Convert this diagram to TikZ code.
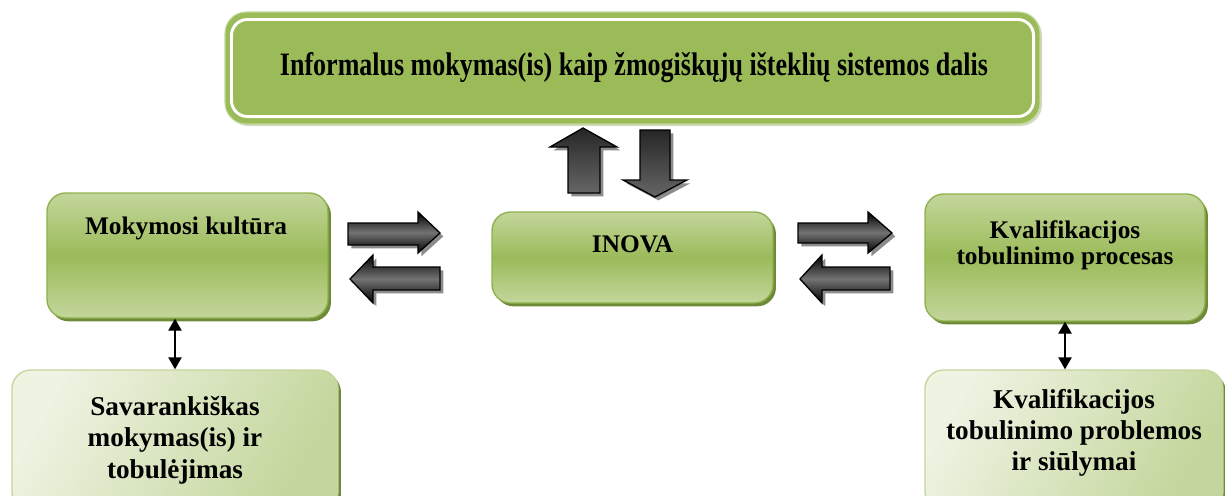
\documentclass[tikz,border=0pt]{standalone}
\usepackage{fontspec}
\setmainfont{Liberation Serif}
\usetikzlibrary{shadows,calc,arrows.meta}
\definecolor{gmain}{HTML}{9BBB59}
\definecolor{glight}{HTML}{C3D69B}
\definecolor{gdark}{HTML}{6E8A38}
\definecolor{gborder}{HTML}{8EB04C}
\definecolor{gpale}{HTML}{EEF3E2}
\tikzset{
  box/.style={rounded corners=14pt, draw=gborder, line width=1pt,
    top color=glight, bottom color=glight, middle color=gmain,
    drop shadow={shadow xshift=2.2pt, shadow yshift=-2.5pt, fill=gdark, opacity=1}},
  palebox/.style={rounded corners=14pt, draw=glight, line width=1pt,
    left color=gpale, right color=glight, shading angle=60,
    drop shadow={shadow xshift=2.2pt, shadow yshift=-2.5pt, fill=gdark, opacity=1}},
  topbox/.style={rounded corners=16pt, draw=glight, line width=0.8pt, fill=gmain,
    drop shadow={shadow xshift=1.5pt, shadow yshift=-1.5pt, fill=gdark!60, opacity=0.5}},
  lbl/.style={align=center, text=black, inner sep=0pt, font=\bfseries\fontsize{19}{19.5}\selectfont},
  lblb/.style={align=center, text=black, inner sep=0pt, font=\bfseries\fontsize{20.4}{23.5}\selectfont},
  harrow/.style={draw=black, line width=1pt, top color=black, bottom color=black, middle color=black!55,
    drop shadow={shadow xshift=2.5pt, shadow yshift=-2.5pt, fill=black!45, opacity=1}},
  varrow/.style={draw=black, line width=1pt, top color=black!85, bottom color=black!60,
    drop shadow={shadow xshift=2.5pt, shadow yshift=-2.5pt, fill=black!45, opacity=1}},
  dbl/.style={{Triangle[length=9pt,width=10pt]}-{Triangle[length=9pt,width=10pt]}, line width=1pt, black}
}
\begin{document}
\begin{tikzpicture}[x=0.75pt,y=-0.75pt]
\path[use as bounding box] (0,0) rectangle (1225,496);
\clip (0,0) rectangle (1225,496);
% top box
\node[topbox, minimum width={815*0.75pt}, minimum height={112*0.75pt}] (top) at (632.5,68) {};
\draw[white, line width=2.2pt, rounded corners=12pt] ($(top.north west)+(7,8)$) rectangle ($(top.south east)+(-7,-8)$);
\node[lbl] (toptext) at (634,68) {\resizebox{531pt}{\height}{\fontsize{24.5}{28}\selectfont\bfseries Informalus mokymas(is) kaip žmogiškųjų išteklių sistemos dalis}};
% middle row
\node[box, minimum width={281*0.75pt}, minimum height={125*0.75pt}] (mk) at (187.5,255.5) {};
\node[lbl] (mktext) at (186,228) {Mokymosi kultūra};
\node[box, minimum width={281*0.75pt}, minimum height={91*0.75pt}] (inova) at (632.5,257.5) {};
\node[lbl] (inovatext) at (632.5,244) {INOVA};
\node[box, minimum width={280*0.75pt}, minimum height={127*0.75pt}] (kp) at (1065,257.5) {};
\node[lbl] (kptext) at (1065,245) {Kvalifikacijos\\tobulinimo procesas};
% bottom row
\node[palebox, minimum width={326*0.75pt}, minimum height={140*0.75pt}] (sav) at (175,440) {};
\node[lblb] (savtext) at (175,440) {Savarankiškas\\mokymas(is) ir\\tobulėjimas};
\node[palebox, minimum width={298*0.75pt}, minimum height={140*0.75pt}] (kpr) at (1074,440) {};
\node[lblb] (kprtext) at (1074,433) {Kvalifikacijos\\tobulinimo problemos\\ir siūlymai};
% vertical double arrows
\draw[dbl] (sav.north |- mk.south) -- (sav.north);
\draw[dbl] (kp.south) -- (kp.south |- kpr.north);
% block arrows top
\path[varrow] (583,128) -- (617,147) -- (600,147) -- (600,193) -- (568,193) -- (568,147) -- (550,147) -- cycle;
\path[varrow] (640,130) -- (670,130) -- (670,180) -- (687,180) -- (655,197) -- (623,180) -- (640,180) -- cycle;
% block arrows left
\path[harrow] (348,223) -- (418,223) -- (418,212) -- (440,233) -- (418,253) -- (418,245) -- (348,245) -- cycle;
\path[harrow] (440,267) -- (373,267) -- (373,255) -- (350,279) -- (373,303) -- (373,290) -- (440,290) -- cycle;
% block arrows right
\path[harrow] (798,223) -- (868,223) -- (868,212) -- (892,233) -- (868,253) -- (868,243) -- (798,243) -- cycle;
\path[harrow] (890,267) -- (822,267) -- (822,255) -- (800,279) -- (822,303) -- (822,290) -- (890,290) -- cycle;
\end{tikzpicture}
\end{document}
